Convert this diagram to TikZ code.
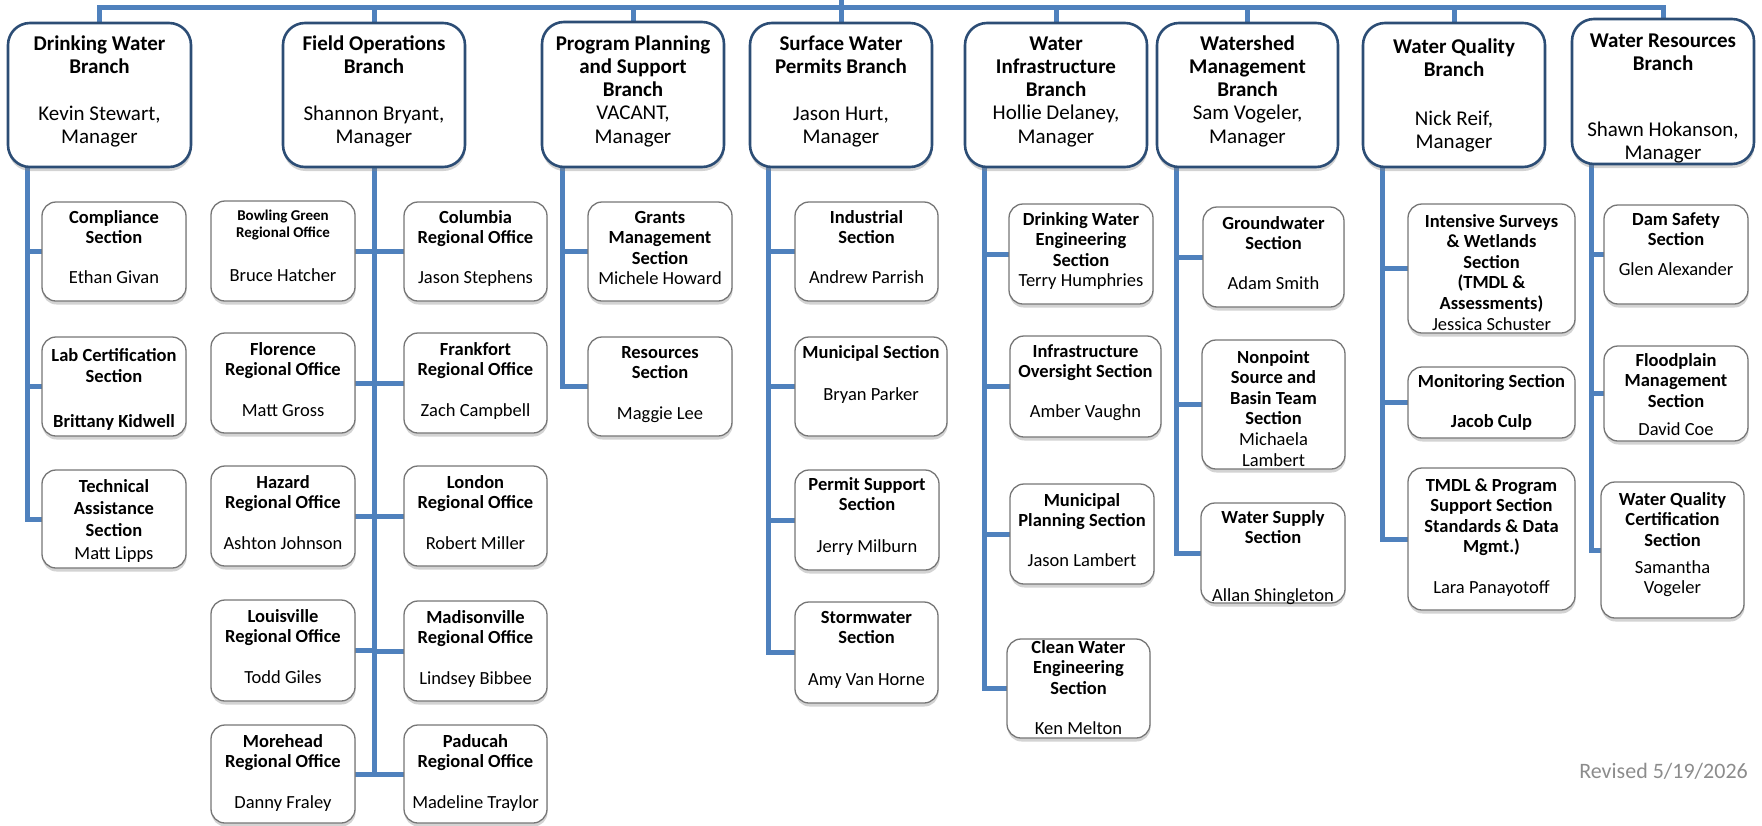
\documentclass[tikz,border=0pt]{standalone}
\usepackage{fontspec}
\setmainfont{Carlito}
\usetikzlibrary{shadows}
\definecolor{cblue}{HTML}{4F81BD}
\definecolor{navy}{HTML}{2C4D75}
\definecolor{secline}{HTML}{767676}
\definecolor{revgray}{HTML}{8C8C8C}
\pgfdeclarelayer{bg}
\pgfsetlayers{bg,main}
% #1 style, #2 name, #3 x1, #4 y1, #5 x2, #6 y2, #7 top gap, #8 content
\newcommand\bx[8]{%
  \pgfmathsetmacro\bxw{#5-#3}\pgfmathsetmacro\bxh{#6-#4}%
  \node[#1, inner sep=0pt, outer sep=0pt] (#2) at ({(#3+#5)/2},{(#4+#6)/2})
    {\parbox[c][\bxh pt][t]{\bxw pt}{\centering\vspace*{#7pt}\strut #8}};}
\begin{document}
\begin{tikzpicture}[x=1pt,y=-1pt,
  branch/.style={draw=navy, line width=2.6pt, rounded corners=22pt, fill=white,
    font=\fontsize{21}{23.3}\selectfont,
    drop shadow={shadow xshift=0.5pt, shadow yshift=-4pt, opacity=0.35}},
  sect/.style={draw=secline, line width=1.3pt, rounded corners=14pt, fill=white,
    font=\fontsize{18.5}{20.6}\selectfont,
    drop shadow={shadow xshift=0.5pt, shadow yshift=-3.5pt, opacity=0.35}},
  wire/.style={draw=cblue, line width=5pt}]
\useasboundingbox (0,0) rectangle (1762,825);

% ---------- branches ----------
\bx{branch}{dw}{8}{23}{191}{167}{10.7}{\textbf{Drinking Water}\\\textbf{Branch}\\[23.7pt]Kevin Stewart,\\Manager}
\bx{branch}{fo}{283}{23}{465}{167}{10.7}{\textbf{Field Operations}\\\textbf{Branch}\\[23.7pt]Shannon Bryant,\\Manager}
\bx{branch}{pp}{542}{22}{724}{167}{11.7}{\textbf{Program Planning}\\\textbf{and Support}\\\textbf{Branch}\\VACANT,\\Manager}
\bx{branch}{sw}{750}{23}{932}{167}{10.7}{\textbf{Surface Water}\\\textbf{Permits Branch}\\[23.7pt]Jason Hurt,\\Manager}
\bx{branch}{wi}{965}{23}{1147}{167}{10.7}{\textbf{Water}\\\textbf{Infrastructure}\\\textbf{Branch}\\Hollie Delaney,\\Manager}
\bx{branch}{wm}{1157}{23}{1338}{167}{10.7}{\textbf{Watershed}\\\textbf{Management}\\\textbf{Branch}\\Sam Vogeler,\\Manager}
\bx{branch}{wq}{1363}{23}{1545}{167}{13.7}{\textbf{Water Quality}\\\textbf{Branch}\\[25.7pt]Nick Reif,\\Manager}
\bx{branch}{wr}{1572}{19}{1754}{164}{11.7}{\textbf{Water Resources}\\\textbf{Branch}\\[42.4pt]Shawn Hokanson,\\Manager}

% ---------- Drinking Water sections ----------
\bx{sect}{c1}{42}{202}{186}{301}{6.6}{\textbf{Compliance}\\\textbf{Section}\\[19pt]Ethan Givan}
\bx{sect}{c2}{42}{337}{186}{436}{10.3}{\textbf{Lab Certification}\\\textbf{Section}\\[25pt]\textbf{Brittany Kidwell}}
\bx{sect}{c3}{42}{470}{186}{568}{8.3}{\textbf{Technical}\\[1.5pt]\textbf{Assistance}\\[1.5pt]\textbf{Section}\\[1.5pt]Matt Lipps}

% ---------- Field Operations offices ----------
\bx{sect}{bg}{211}{201}{355}{301}{4.6}{{\fontsize{15}{17}\selectfont\textbf{Bowling Green}\\[-3.6pt]\textbf{Regional Office}}\\[23.4pt]Bruce Hatcher}
\bx{sect}{col}{404}{202}{547}{301}{6.6}{\textbf{Columbia}\\\textbf{Regional Office}\\[19pt]Jason Stephens}
\bx{sect}{flo}{211}{333}{355}{433}{7.6}{\textbf{Florence}\\\textbf{Regional Office}\\[20pt]Matt Gross}
\bx{sect}{fra}{404}{333}{547}{433}{7.6}{\textbf{Frankfort}\\\textbf{Regional Office}\\[20pt]Zach Campbell}
\bx{sect}{haz}{211}{466}{355}{566}{7.6}{\textbf{Hazard}\\\textbf{Regional Office}\\[20pt]Ashton Johnson}
\bx{sect}{lon}{404}{466}{547}{566}{7.6}{\textbf{London}\\\textbf{Regional Office}\\[20pt]Robert Miller}
\bx{sect}{lou}{211}{600}{355}{701}{7.6}{\textbf{Louisville}\\\textbf{Regional Office}\\[20pt]Todd Giles}
\bx{sect}{mad}{404}{601}{547}{701}{7.6}{\textbf{Madisonville}\\\textbf{Regional Office}\\[20pt]Lindsey Bibbee}
\bx{sect}{mor}{211}{725}{355}{823}{7.6}{\textbf{Morehead}\\\textbf{Regional Office}\\[20pt]Danny Fraley}
\bx{sect}{pad}{404}{725}{547}{823}{7.6}{\textbf{Paducah}\\\textbf{Regional Office}\\[20pt]Madeline Traylor}

% ---------- Program Planning sections ----------
\bx{sect}{gr}{588}{202}{732}{301}{6.6}{\textbf{Grants}\\\textbf{Management}\\\textbf{Section}\\Michele Howard}
\bx{sect}{res}{588}{337}{732}{436}{6.6}{\textbf{Resources}\\\textbf{Section}\\[20pt]Maggie Lee}

% ---------- Surface Water sections ----------
\bx{sect}{ind}{795}{202}{938}{301}{6.6}{\textbf{Industrial}\\\textbf{Section}\\[19pt]Andrew Parrish}
\bx{sect}{mun}{795}{337}{947}{436}{6.6}{\textbf{Municipal Section}\\[21.4pt]Bryan Parker}
\bx{sect}{ps}{795}{470}{939}{570}{5.6}{\textbf{Permit Support}\\\textbf{Section}\\[20.8pt]Jerry Milburn}
\bx{sect}{sto}{795}{602}{938}{703}{6.6}{\textbf{Stormwater}\\\textbf{Section}\\[20.8pt]Amy Van Horne}

% ---------- Water Infrastructure sections ----------
\bx{sect}{dwe}{1009}{204}{1153}{304}{6.6}{\textbf{Drinking Water}\\\textbf{Engineering}\\\textbf{Section}\\Terry Humphries}
\bx{sect}{io}{1010}{336}{1161}{437}{6.6}{\textbf{Infrastructure}\\\textbf{Oversight Section}\\[19pt]Amber Vaughn}
\bx{sect}{mp}{1010}{484}{1154}{584}{7.6}{\textbf{Municipal}\\\textbf{Planning Section}\\[19pt]Jason Lambert}
\bx{sect}{cwe}{1007}{639}{1150}{738}{-0.4}{\textbf{Clean Water}\\\textbf{Engineering}\\\textbf{Section}\\[19.2pt]Ken Melton}

% ---------- Watershed Management sections ----------
\bx{sect}{gw}{1203}{207}{1344}{307}{7.6}{\textbf{Groundwater}\\\textbf{Section}\\[19pt]Adam Smith}
\bx{sect}{np}{1202}{340}{1345}{469}{8.6}{\textbf{Nonpoint}\\\textbf{Source and}\\\textbf{Basin Team}\\\textbf{Section}\\Michaela\\Lambert}
\bx{sect}{ws}{1201}{503}{1345}{603}{5.6}{\textbf{Water Supply}\\\textbf{Section}\\[36.8pt]Allan Shingleton}

% ---------- Water Quality sections ----------
\bx{sect}{isw}{1408}{204}{1575}{333}{8.6}{\textbf{Intensive Surveys}\\\textbf{\& Wetlands}\\\textbf{Section}\\\textbf{(TMDL \&}\\\textbf{Assessments)}\\Jessica Schuster}
\bx{sect}{mon}{1408}{367}{1575}{438}{5.6}{\textbf{Monitoring Section}\\[19.4pt]\textbf{Jacob Culp}}
\bx{sect}{tmdl}{1408}{468}{1575}{610}{8.6}{\textbf{TMDL \& Program}\\\textbf{Support Section}\\\textbf{Standards \& Data}\\\textbf{Mgmt.)}\\[19.6pt]Lara Panayotoff}

% ---------- Water Resources sections ----------
\bx{sect}{ds}{1604}{205}{1748}{304}{5.6}{\textbf{Dam Safety}\\\textbf{Section}\\[8.8pt]Glen Alexander}
\bx{sect}{fp}{1604}{346}{1748}{441}{5.6}{\textbf{Floodplain}\\\textbf{Management}\\\textbf{Section}\\[7.2pt]David Coe}
\bx{sect}{wqc}{1601}{482}{1744}{618}{8.6}{\textbf{Water Quality}\\\textbf{Certification}\\\textbf{Section}\\[6.2pt]Samantha\\Vogeler}

\node[text=revgray, font=\fontsize{22}{26}\selectfont, anchor=base east, inner sep=0pt] (rev) at (1748,778) {Revised 5/19/2026};

% ---------- connectors ----------
\begin{pgfonlayer}{bg}
\coordinate (bus) at (0,7);
\coordinate (root) at (0,-6);
\draw[wire] (dw.north) -- (dw.north |- bus) -- (wr.north |- bus) -- (wr.north);
\foreach \b in {fo,pp,sw,wi,wm,wq} \draw[wire] (\b.north) -- (\b.north |- bus);
\draw[wire] (sw.north) -- (sw.north |- root);
\foreach \s in {c1,c2,c3} \draw[wire] ([xshift=19pt]dw.south west) |- (\s.west);
\foreach \s in {bg,flo,haz,lou,mor} \draw[wire] (fo.south) |- (\s.east);
\foreach \s in {col,fra,lon,mad,pad} \draw[wire] (fo.south) |- (\s.west);
\foreach \s in {gr,res} \draw[wire] ([xshift=20pt]pp.south west) |- (\s.west);
\foreach \s in {ind,mun,ps,sto} \draw[wire] ([xshift=18pt]sw.south west) |- (\s.west);
\foreach \s in {dwe,io,mp,cwe} \draw[wire] ([xshift=19pt]wi.south west) |- (\s.west);
\foreach \s in {gw,np,ws} \draw[wire] ([xshift=19pt]wm.south west) |- (\s.west);
\foreach \s in {isw,mon,tmdl} \draw[wire] ([xshift=19pt]wq.south west) |- (\s.west);
\foreach \s in {ds,fp,wqc} \draw[wire] ([xshift=19pt]wr.south west) |- (\s.west);
\end{pgfonlayer}
\end{tikzpicture}
\end{document}
